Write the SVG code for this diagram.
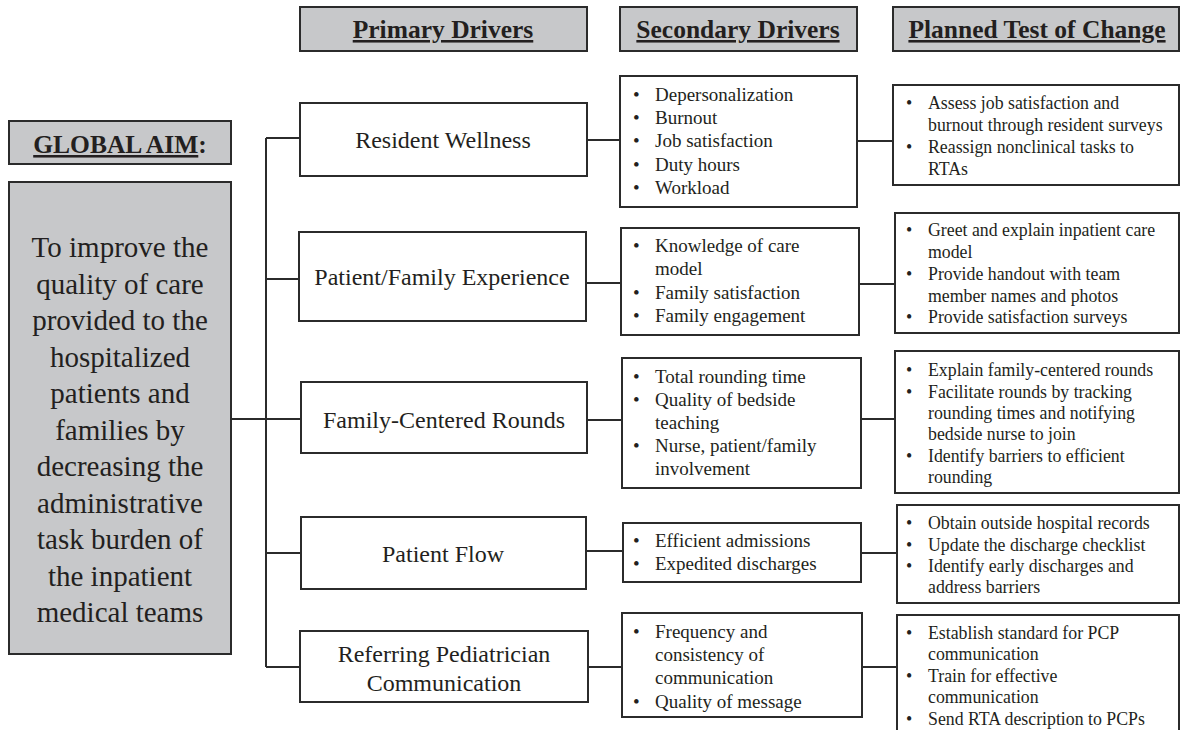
<svg xmlns="http://www.w3.org/2000/svg" width="1181" height="730" viewBox="0 0 1181 730">
<style>
.box{fill:#fff;stroke:#2b2b2b;stroke-width:2}
.gbox{fill:#c7c8ca;stroke:#2b2b2b;stroke-width:2}
.hd{font-family:"Liberation Serif",serif;font-weight:bold;font-size:25.5px;fill:#231f20;text-anchor:middle}
.u{text-decoration:underline}
.pd{font-family:"Liberation Serif",serif;font-size:24px;fill:#231f20;text-anchor:middle}
.aim{font-family:"Liberation Serif",serif;font-size:29px;fill:#231f20;text-anchor:middle}
.bl{font-family:"Liberation Serif",serif;font-size:19px;fill:#231f20}
.pl{font-family:"Liberation Serif",serif;font-size:17.8px;fill:#231f20}
.cn{stroke:#2b2b2b;stroke-width:2;fill:none}
</style>
<rect width="1181" height="730" fill="#fff"/>
<g id="hdr-primary"><rect class="gbox" x="300" y="7" width="287" height="44"/><text class="hd u" x="443" y="38">Primary Drivers</text></g>
<g id="hdr-secondary"><rect class="gbox" x="620" y="7" width="237" height="44"/><text class="hd u" x="738" y="38">Secondary Drivers</text></g>
<g id="hdr-planned"><rect class="gbox" x="893" y="7" width="286" height="44"/><text class="hd u" x="1037" y="38">Planned Test of Change</text></g>
<g id="hdr-aim"><rect class="gbox" x="9" y="121" width="222" height="43"/><text class="hd" x="120" y="153"><tspan class="u">GLOBAL AIM</tspan>:</text></g>
<g id="aim"><rect class="gbox" x="9" y="182" width="222" height="472"/>
<text class="aim" x="120"><tspan x="120" y="257">To improve the</tspan><tspan x="120" y="293.5">quality of care</tspan><tspan x="120" y="330">provided to the</tspan><tspan x="120" y="366.5">hospitalized</tspan><tspan x="120" y="403">patients and</tspan><tspan x="120" y="439.5">families by</tspan><tspan x="120" y="476">decreasing the</tspan><tspan x="120" y="512.5">administrative</tspan><tspan x="120" y="549">task burden of</tspan><tspan x="120" y="585.5">the inpatient</tspan><tspan x="120" y="622">medical teams</tspan></text></g>
<g id="connectors">
<path class="cn" d="M266 138V667M231 419H301M266 138H300M266 279H299M266 553H301M266 667H300"/>
<path class="cn" d="M587 140H620M586 283H621M587 420H622M586 551H623M588 667H622"/>
<path class="cn" d="M857 141H893M859 284H895M861 419H895M861 553H897M862 667H897"/>
</g>
<g id="p1"><rect class="box" x="300" y="103" width="287" height="73"/><text class="pd" x="443" y="148">Resident Wellness</text></g>
<g id="p2"><rect class="box" x="299" y="232" width="287" height="89"/><text class="pd" x="442" y="285">Patient/Family Experience</text></g>
<g id="p3"><rect class="box" x="301" y="382" width="286" height="71"/><text class="pd" x="444" y="428">Family-Centered Rounds</text></g>
<g id="p4"><rect class="box" x="301" y="517" width="285" height="72"/><text class="pd" x="443" y="562">Patient Flow</text></g>
<g id="p5"><rect class="box" x="300" y="631" width="288" height="71"/><text class="pd" x="444" y="662">Referring Pediatrician</text><text class="pd" x="444" y="691">Communication</text></g>
<g id="s1"><rect class="box" x="620" y="76" width="237" height="131"/>
<text class="bl"><tspan x="633" y="101">•</tspan><tspan x="655" y="101">Depersonalization</tspan><tspan x="633" y="124">•</tspan><tspan x="655" y="124">Burnout</tspan><tspan x="633" y="147">•</tspan><tspan x="655" y="147">Job satisfaction</tspan><tspan x="633" y="171">•</tspan><tspan x="655" y="171">Duty hours</tspan><tspan x="633" y="194">•</tspan><tspan x="655" y="194">Workload</tspan></text></g>
<g id="s2"><rect class="box" x="621" y="228" width="238" height="107"/>
<text class="bl"><tspan x="633" y="252">•</tspan><tspan x="655" y="252">Knowledge of care</tspan><tspan x="655" y="275">model</tspan><tspan x="633" y="299">•</tspan><tspan x="655" y="299">Family satisfaction</tspan><tspan x="633" y="322">•</tspan><tspan x="655" y="322">Family engagement</tspan></text></g>
<g id="s3"><rect class="box" x="622" y="358" width="239" height="130"/>
<text class="bl"><tspan x="633" y="383">•</tspan><tspan x="655" y="383">Total rounding time</tspan><tspan x="633" y="406">•</tspan><tspan x="655" y="406">Quality of bedside</tspan><tspan x="655" y="429">teaching</tspan><tspan x="633" y="452">•</tspan><tspan x="655" y="452">Nurse, patient/family</tspan><tspan x="655" y="475">involvement</tspan></text></g>
<g id="s4"><rect class="box" x="623" y="523" width="238" height="59"/>
<text class="bl"><tspan x="633" y="547">•</tspan><tspan x="655" y="547">Efficient admissions</tspan><tspan x="633" y="570">•</tspan><tspan x="655" y="570">Expedited discharges</tspan></text></g>
<g id="s5"><rect class="box" x="622" y="613" width="240" height="104"/>
<text class="bl"><tspan x="633" y="638">•</tspan><tspan x="655" y="638">Frequency and</tspan><tspan x="655" y="661">consistency of</tspan><tspan x="655" y="684">communication</tspan><tspan x="633" y="708">•</tspan><tspan x="655" y="708">Quality of message</tspan></text></g>
<g id="t1"><rect class="box" x="893" y="85" width="286" height="100"/>
<text class="pl"><tspan x="906" y="109">•</tspan><tspan x="928" y="109">Assess job satisfaction and</tspan><tspan x="928" y="131">burnout through resident surveys</tspan><tspan x="906" y="153">•</tspan><tspan x="928" y="153">Reassign nonclinical tasks to</tspan><tspan x="928" y="175">RTAs</tspan></text></g>
<g id="t2"><rect class="box" x="895" y="213" width="284" height="120"/>
<text class="pl"><tspan x="906" y="236">•</tspan><tspan x="928" y="236">Greet and explain inpatient care</tspan><tspan x="928" y="258">model</tspan><tspan x="906" y="280">•</tspan><tspan x="928" y="280">Provide handout with team</tspan><tspan x="928" y="302">member names and photos</tspan><tspan x="906" y="323">•</tspan><tspan x="928" y="323">Provide satisfaction surveys</tspan></text></g>
<g id="t3"><rect class="box" x="895" y="351" width="284" height="142"/>
<text class="pl"><tspan x="906" y="376">•</tspan><tspan x="928" y="376">Explain family-centered rounds</tspan><tspan x="906" y="398">•</tspan><tspan x="928" y="398">Facilitate rounds by tracking</tspan><tspan x="928" y="419">rounding times and notifying</tspan><tspan x="928" y="440">bedside nurse to join</tspan><tspan x="906" y="462">•</tspan><tspan x="928" y="462">Identify barriers to efficient</tspan><tspan x="928" y="483">rounding</tspan></text></g>
<g id="t4"><rect class="box" x="897" y="505" width="282" height="98"/>
<text class="pl"><tspan x="906" y="529">•</tspan><tspan x="928" y="529">Obtain outside hospital records</tspan><tspan x="906" y="551">•</tspan><tspan x="928" y="551">Update the discharge checklist</tspan><tspan x="906" y="572">•</tspan><tspan x="928" y="572">Identify early discharges and</tspan><tspan x="928" y="593">address barriers</tspan></text></g>
<g id="t5"><rect class="box" x="897" y="615" width="282" height="125"/>
<text class="pl"><tspan x="906" y="639">•</tspan><tspan x="928" y="639">Establish standard for PCP</tspan><tspan x="928" y="660">communication</tspan><tspan x="906" y="682">•</tspan><tspan x="928" y="682">Train for effective</tspan><tspan x="928" y="703">communication</tspan><tspan x="906" y="725">•</tspan><tspan x="928" y="725">Send RTA description to PCPs</tspan></text></g>
</svg>
